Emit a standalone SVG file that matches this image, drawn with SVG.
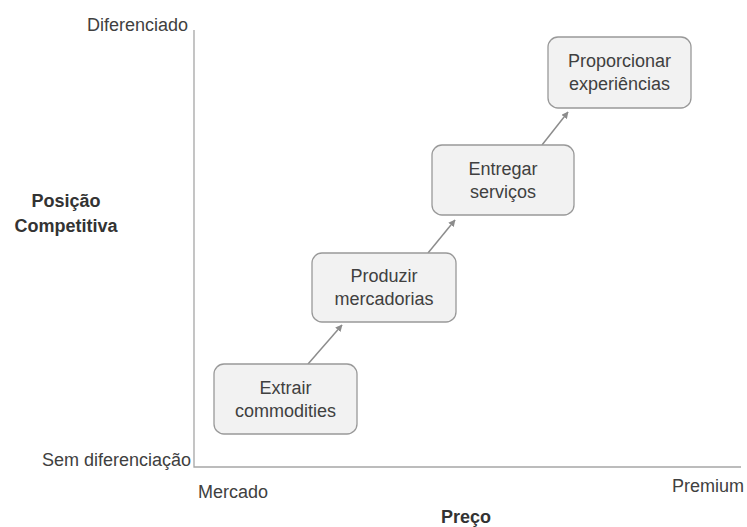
<svg xmlns="http://www.w3.org/2000/svg" width="747" height="527" viewBox="0 0 747 527">
<style>
.lbl{font-family:"Liberation Sans",Arial,sans-serif;font-size:18px;fill:#404040}
.b{font-weight:bold;fill:#333}
.box{fill:#f2f2f2;stroke:#999;stroke-width:1.3}
.ax{stroke:#a6a6a6;stroke-width:1.3;fill:none}
.cn{stroke:#8c8c8c;stroke-width:1.5;fill:none}
</style>
<defs>
<marker id="ah" viewBox="0 0 10 10" refX="9" refY="5" markerWidth="7" markerHeight="7" markerUnits="userSpaceOnUse" orient="auto">
<path d="M0,0 L10,5 L0,10 z" fill="#8c8c8c"/>
</marker>
</defs>
<rect width="747" height="527" fill="#fff"/>
<g id="axes">
<path class="ax" d="M194,30 V467 H741"/>
<text class="lbl" x="188" y="31" text-anchor="end">Diferenciado</text>
<text class="lbl" x="191" y="466" text-anchor="end" font-size="18.5">Sem diferenciação</text>
<text class="lbl" x="198" y="498">Mercado</text>
<text class="lbl" x="744" y="492" text-anchor="end">Premium</text>
<text class="lbl b" x="466" y="523" text-anchor="middle">Preço</text>
<text class="lbl b" x="66" y="207" text-anchor="middle">Posição</text>
<text class="lbl b" x="66" y="232" text-anchor="middle">Competitiva</text>
</g>
<g id="connectors">
<path class="cn" d="M308,364 L342,325" marker-end="url(#ah)"/>
<path class="cn" d="M428,253 L455,220" marker-end="url(#ah)"/>
<path class="cn" d="M542,145 L568,112" marker-end="url(#ah)"/>
</g>
<g id="n1">
<rect class="box" x="214" y="364" width="143" height="70" rx="10"/>
<text class="lbl" x="285.5" y="394" text-anchor="middle">Extrair</text>
<text class="lbl" x="285.5" y="417" text-anchor="middle">commodities</text>
</g>
<g id="n2">
<rect class="box" x="312" y="253" width="144" height="69" rx="10"/>
<text class="lbl" x="384" y="282" text-anchor="middle">Produzir</text>
<text class="lbl" x="384" y="305" text-anchor="middle">mercadorias</text>
</g>
<g id="n3">
<rect class="box" x="432" y="145" width="142" height="70" rx="10"/>
<text class="lbl" x="503" y="175" text-anchor="middle">Entregar</text>
<text class="lbl" x="503" y="198" text-anchor="middle">serviços</text>
</g>
<g id="n4">
<rect class="box" x="548" y="37" width="143" height="71" rx="10"/>
<text class="lbl" x="619.5" y="67" text-anchor="middle">Proporcionar</text>
<text class="lbl" x="619.5" y="90" text-anchor="middle">experiências</text>
</g>
</svg>
